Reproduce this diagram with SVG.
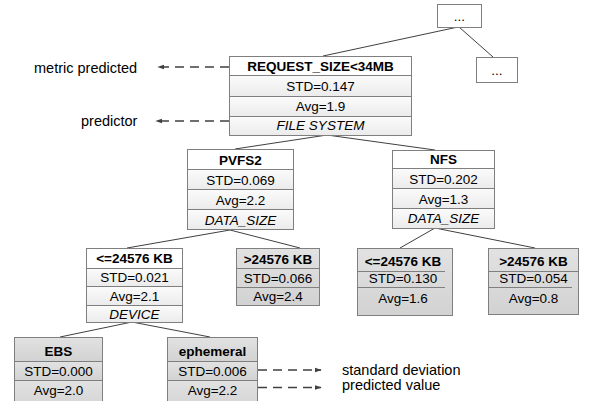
<svg xmlns="http://www.w3.org/2000/svg" width="593" height="401" viewBox="0 0 593 401">
<defs>
<linearGradient id="gIn" x1="0" y1="0" x2="0" y2="1"><stop offset="0" stop-color="#fbfbfb"/><stop offset="1" stop-color="#ebebeb"/></linearGradient>
<linearGradient id="gLeaf" x1="0" y1="0" x2="0" y2="1"><stop offset="0" stop-color="#e2e2e2"/><stop offset="1" stop-color="#d2d2d2"/></linearGradient>
<marker id="ah" viewBox="0 0 10 10" refX="9" refY="5" markerWidth="7" markerHeight="7" orient="auto-start-reverse" markerUnits="userSpaceOnUse">
<path d="M0,1.5 L10,5 L0,8.5 Z" fill="#404040"/>
</marker>
<style>
.box{stroke:#7f7f7f;stroke-width:1;}
.hd{fill:#ffffff;}
.in{fill:url(#gIn);}
.lf{fill:url(#gLeaf);}
.sep{stroke:#7f7f7f;stroke-width:1;fill:none;}
.t{font-family:"Liberation Sans",Arial,sans-serif;font-size:13.5px;fill:#000;text-anchor:middle;}
.b{font-weight:bold;}
.i{font-style:italic;}
.ann{font-family:"Liberation Sans",Arial,sans-serif;font-size:14.5px;fill:#000;}
.con{stroke:#404040;stroke-width:1;fill:none;}
.dash{stroke:#404040;stroke-width:1.4;fill:none;stroke-dasharray:9,6;}
</style>
</defs>
<rect width="593" height="401" fill="#ffffff"/>

<g id="connectors">
<line class="con" x1="458" y1="27" x2="323" y2="56"/>
<line class="con" x1="459" y1="27" x2="493" y2="57"/>
<line class="con" x1="327" y1="135" x2="235" y2="149"/>
<line class="con" x1="327" y1="135" x2="435" y2="150"/>
<line class="con" x1="230" y1="230" x2="127" y2="248"/>
<line class="con" x1="230" y1="230" x2="300" y2="248"/>
<line class="con" x1="435" y1="228" x2="400" y2="248"/>
<line class="con" x1="435" y1="228" x2="535" y2="248"/>
<line class="con" x1="132" y1="322" x2="60" y2="337"/>
<line class="con" x1="132" y1="322" x2="210" y2="337"/>
<line class="dash" x1="229" y1="67" x2="158" y2="67" marker-end="url(#ah)"/>
<line class="dash" x1="229" y1="121" x2="156" y2="121" marker-end="url(#ah)"/>
<line class="dash" x1="258" y1="370" x2="321" y2="370" marker-end="url(#ah)"/>
<line class="dash" x1="258" y1="387.5" x2="321" y2="387.5" marker-end="url(#ah)"/>
</g>

<g id="labels">
<text class="ann" x="34" y="73">metric predicted</text>
<text class="ann" x="81" y="125.5">predictor</text>
<text class="ann" x="342" y="374.5">standard deviation</text>
<text class="ann" x="342" y="390">predicted value</text>
</g>

<g id="top-dots">
<rect class="box hd" x="437.5" y="4.5" width="44" height="23"/>
<text class="t" x="459.5" y="21">...</text>
</g>

<g id="right-dots">
<rect class="box hd" x="476.5" y="57.5" width="41" height="25"/>
<text class="t" x="497" y="75">...</text>
</g>

<g id="root">
<rect class="box hd" x="229.5" y="56.5" width="182" height="19"/>
<rect class="box in" x="229.5" y="75.5" width="182" height="21"/>
<rect class="box in" x="229.5" y="96.5" width="182" height="20"/>
<rect class="box in" x="229.5" y="116.5" width="182" height="19"/>
<text class="t b" x="320.5" y="71">REQUEST_SIZE&lt;34MB</text>
<text class="t" x="320.5" y="91">STD=0.147</text>
<text class="t" x="320.5" y="111">Avg=1.9</text>
<text class="t i" x="320.5" y="130">FILE SYSTEM</text>
</g>

<g id="pvfs2">
<rect class="box hd" x="187.5" y="149.5" width="106" height="20"/>
<rect class="box in" x="187.5" y="169.5" width="106" height="20"/>
<rect class="box in" x="187.5" y="189.5" width="106" height="20"/>
<rect class="box in" x="187.5" y="209.5" width="106" height="20"/>
<text class="t b" x="240.5" y="164.5">PVFS2</text>
<text class="t" x="240.5" y="185">STD=0.069</text>
<text class="t" x="240.5" y="204.5">Avg=2.2</text>
<text class="t i" x="240.5" y="224.5">DATA_SIZE</text>
</g>

<g id="nfs">
<rect class="box hd" x="392.5" y="150.5" width="102" height="18"/>
<rect class="box in" x="392.5" y="168.5" width="102" height="20"/>
<rect class="box in" x="392.5" y="188.5" width="102" height="20"/>
<rect class="box in" x="392.5" y="208.5" width="102" height="20"/>
<text class="t b" x="443.5" y="164">NFS</text>
<text class="t" x="443.5" y="184">STD=0.202</text>
<text class="t" x="443.5" y="203.5">Avg=1.3</text>
<text class="t i" x="443.5" y="223">DATA_SIZE</text>
</g>

<g id="pvfs2-small">
<rect class="box hd" x="86.5" y="248.5" width="96" height="20"/>
<rect class="box in" x="86.5" y="268.5" width="96" height="18"/>
<rect class="box in" x="86.5" y="286.5" width="96" height="19"/>
<rect class="box in" x="86.5" y="305.5" width="96" height="17"/>
<text class="t b" x="134.5" y="262.5">&lt;=24576 KB</text>
<text class="t" x="134.5" y="282">STD=0.021</text>
<text class="t" x="134.5" y="300.5">Avg=2.1</text>
<text class="t i" x="134.5" y="319">DEVICE</text>
</g>

<g id="pvfs2-large">
<rect class="box lf" x="236.5" y="248.5" width="83" height="57"/>
<line class="sep" x1="236.5" y1="268.5" x2="319.5" y2="268.5"/>
<line class="sep" x1="236.5" y1="287.5" x2="319.5" y2="287.5"/>
<text class="t b" x="278" y="264">&gt;24576 KB</text>
<text class="t" x="278" y="283">STD=0.066</text>
<text class="t" x="278" y="301">Avg=2.4</text>
</g>

<g id="nfs-small">
<rect class="box lf" x="357.5" y="248.5" width="95" height="67"/>
<line class="sep" x1="357.5" y1="271.5" x2="445" y2="271.5"/>
<line class="sep" x1="357.5" y1="287.5" x2="445" y2="287.5"/>
<text class="t b" x="403" y="265.5">&lt;=24576 KB</text>
<text class="t" x="403" y="283">STD=0.130</text>
<text class="t" x="403" y="303">Avg=1.6</text>
</g>

<g id="nfs-large">
<rect class="box lf" x="488.5" y="248.5" width="90" height="66"/>
<line class="sep" x1="488.5" y1="271.5" x2="578.5" y2="271.5"/>
<line class="sep" x1="488.5" y1="287.5" x2="572" y2="287.5"/>
<text class="t b" x="533.5" y="265.5">&gt;24576 KB</text>
<text class="t" x="533.5" y="283">STD=0.054</text>
<text class="t" x="533.5" y="303">Avg=0.8</text>
</g>

<g id="ebs">
<rect class="box lf" x="14.5" y="337.5" width="88" height="24"/>
<rect class="box lf" x="14.5" y="361.5" width="88" height="19"/>
<rect class="box lf" x="14.5" y="380.5" width="88" height="30"/>
<text class="t b" x="58.5" y="355.5">EBS</text>
<text class="t" x="58.5" y="375.5">STD=0.000</text>
<text class="t" x="58.5" y="395">Avg=2.0</text>
</g>

<g id="ephemeral">
<rect class="box lf" x="167.5" y="337.5" width="90" height="24"/>
<rect class="box lf" x="167.5" y="361.5" width="90" height="19"/>
<rect class="box lf" x="167.5" y="380.5" width="90" height="30"/>
<text class="t b" x="212.5" y="355.5">ephemeral</text>
<text class="t" x="212.5" y="375.5">STD=0.006</text>
<text class="t" x="212.5" y="395">Avg=2.2</text>
</g>
</svg>
